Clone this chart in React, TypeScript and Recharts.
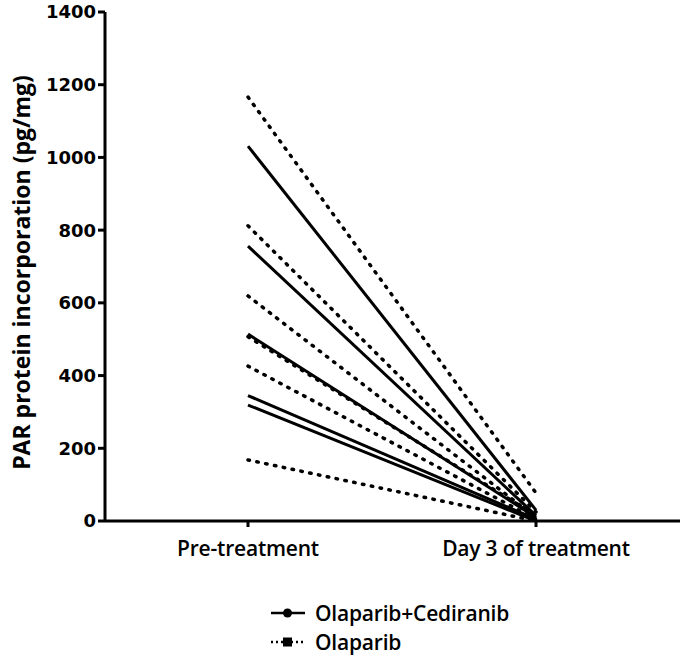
import React from 'react';
import { LineChart, Line, XAxis, YAxis } from 'recharts';

const categories = ['Pre-treatment', 'Day 3 of treatment'];

// Olaparib+Cediranib (solid), one line per patient
const comboPre = [1031, 756, 514, 345, 319];
const comboDay3 = [30, 15, 10, 5, 0];

// Olaparib (dotted), one line per patient
const olaPre = [1166, 812, 619, 507, 426, 168];
const olaDay3 = [77, 25, 10, 15, 5, 0];

const yTicks = [0, 200, 400, 600, 800, 1000, 1200, 1400];

const data = categories.map((name, i) => {
  const row: Record<string, string | number> = { name };
  comboPre.forEach((v, j) => {
    row[`c${j}`] = i === 0 ? v : comboDay3[j];
  });
  olaPre.forEach((v, j) => {
    row[`o${j}`] = i === 0 ? v : olaDay3[j];
  });
  return row;
});

const labelFont = '"Open Sans", "Noto Sans", sans-serif';

function LegendRow({ dotted, label }: { dotted?: boolean; label: string }) {
  return (
    <div style={{ display: 'flex', alignItems: 'center', height: 29 }}>
      <svg width={36} height={12} style={{ marginRight: 9 }}>
        <line
          x1={1}
          y1={6}
          x2={35}
          y2={6}
          stroke="#000"
          strokeWidth={2.5}
          strokeDasharray={dotted ? '2 3' : undefined}
        />
        {dotted ? (
          <rect x={13} y={1.5} width={9} height={9} fill="#000" />
        ) : (
          <circle cx={17.5} cy={6} r={4.5} fill="#000" />
        )}
      </svg>
      <span style={{ fontFamily: labelFont, fontSize: 21, fontWeight: 600, color: '#000', letterSpacing: -0.2 }}>
        {label}
      </span>
    </div>
  );
}

export default function App() {
  return (
    <div style={{ position: 'absolute', left: 0, top: 0, width: 683, height: 658, background: '#fff' }}>
      <LineChart width={683} height={580} data={data} margin={{ top: 12, right: 3, bottom: 9, left: 0 }}>
        <XAxis
          dataKey="name"
          padding={{ left: 143, right: 144 }}
          stroke="#000"
          strokeWidth={3}
          tickSize={6}
          tickLine={{ stroke: '#000', strokeWidth: 3 }}
          tick={{ fill: '#000', fontSize: 21, fontFamily: labelFont, fontWeight: 600, dy: 12, letterSpacing: -0.2 }}
          height={50}
        />
        <YAxis
          domain={[0, 1400]}
          ticks={yTicks}
          width={105}
          stroke="#000"
          strokeWidth={3}
          tickSize={7}
          tickLine={{ stroke: '#000', strokeWidth: 3 }}
          tick={{ fill: '#000', fontSize: 18, fontFamily: '"DejaVu Sans", sans-serif', fontWeight: 700 }}
          interval={0}
          label={{
            value: 'PAR protein incorporation (pg/mg)',
            angle: -90,
            position: 'center',
            dx: -31,
            dy: 6,
            style: { fill: '#000', fontSize: 23, fontFamily: labelFont, fontWeight: 700, textAnchor: 'middle' },
          }}
        />
        {olaPre.map((_, j) => (
          <Line
            key={`o${j}`}
            dataKey={`o${j}`}
            stroke="#000"
            strokeWidth={3.5}
            strokeDasharray="1.5 7.5"
            strokeLinecap="round"
            dot={false}
            activeDot={false}
            isAnimationActive={false}
          />
        ))}
        {comboPre.map((_, j) => (
          <Line
            key={`c${j}`}
            dataKey={`c${j}`}
            stroke="#000"
            strokeWidth={3}
            dot={false}
            activeDot={false}
            isAnimationActive={false}
          />
        ))}
      </LineChart>
      <div style={{ position: 'absolute', left: 270, top: 598 }}>
        <LegendRow label="Olaparib+Cediranib" />
        <LegendRow dotted label="Olaparib" />
      </div>
    </div>
  );
}
